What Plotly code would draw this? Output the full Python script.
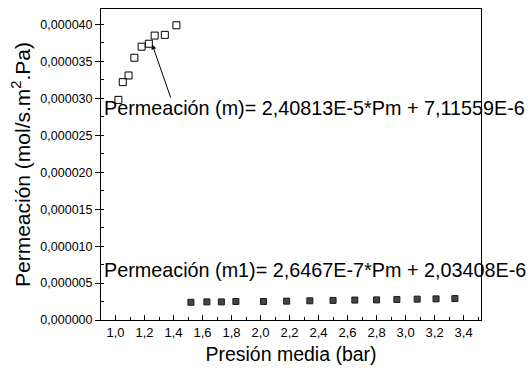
import plotly.graph_objects as go

# Permeación (m) - open squares
pm_m = [1.02, 1.05, 1.09, 1.13, 1.18, 1.23, 1.27, 1.34, 1.42]
perm_m = [29.8e-6, 32.2e-6, 33.1e-6, 35.5e-6, 37.0e-6, 37.4e-6, 38.5e-6, 38.6e-6, 39.9e-6]

# Permeación (m1) - filled squares
pm_m1 = [1.52, 1.63, 1.73, 1.83, 2.02, 2.18, 2.34, 2.50, 2.65, 2.80, 2.94, 3.08, 3.21, 3.34]
perm_m1 = [2.40e-6, 2.45e-6, 2.45e-6, 2.50e-6, 2.50e-6, 2.55e-6, 2.60e-6, 2.65e-6,
           2.70e-6, 2.72e-6, 2.78e-6, 2.82e-6, 2.86e-6, 2.90e-6]

x_ticks = [1.0, 1.2, 1.4, 1.6, 1.8, 2.0, 2.2, 2.4, 2.6, 2.8, 3.0, 3.2, 3.4]
y_ticks = [0, 5e-6, 10e-6, 15e-6, 20e-6, 25e-6, 30e-6, 35e-6, 40e-6]

eq_m = "Permeación (m)= 2,40813E-5*Pm + 7,11559E-6"
eq_m1 = "Permeación (m1)= 2,6467E-7*Pm + 2,03408E-6"

font = "Liberation Sans, Arial, sans-serif"

fig = go.Figure()
fig.add_trace(go.Scatter(
    x=pm_m, y=perm_m, mode="markers",
    marker=dict(symbol="square-open", size=7, color="black", line=dict(width=1, color="black")),
    showlegend=False))
fig.add_trace(go.Scatter(
    x=pm_m1, y=perm_m1, mode="markers",
    marker=dict(symbol="square", size=6, color="#3c4a42", line=dict(width=1, color="#1a1a1a")),
    showlegend=False))

fig.add_annotation(x=0.003, y=0.682, xref="paper", yref="paper", text=eq_m,
                   showarrow=False, xanchor="left", yanchor="middle",
                   font=dict(size=19.8, color="black", family=font))
fig.add_annotation(x=0.003, y=0.161, xref="paper", yref="paper", text=eq_m1,
                   showarrow=False, xanchor="left", yanchor="middle",
                   font=dict(size=19.8, color="black", family=font))
# arrow
fig.add_annotation(x=1.253, y=37.3e-6, ax=1.384, ay=29.9e-6, xref="x", yref="y",
                   axref="x", ayref="y", text="", showarrow=True,
                   arrowhead=2, arrowsize=1, arrowwidth=1, arrowcolor="black")

fig.update_layout(
    width=528, height=371,
    margin=dict(l=101, r=47, t=9, b=51),
    paper_bgcolor="white", plot_bgcolor="white",
    separators=", ",
    font=dict(family=font, color="black", size=13),
)
fig.update_xaxes(
    range=[0.9, 3.52], tickvals=x_ticks, tickformat=".1f",
    showline=True, linecolor="black", linewidth=1, mirror=True,
    ticks="inside", ticklen=5, tickcolor="black",
    minor=dict(dtick=0.1, ticks="inside", ticklen=3, tickcolor="black"),
    showgrid=False, zeroline=False,
    tickfont=dict(size=13),
    title=dict(text="Presión media (bar)", font=dict(size=19.5), standoff=8),
)
fig.update_yaxes(
    range=[0, 42.1e-6], tickvals=y_ticks, tickformat=".6f",
    showline=True, linecolor="black", linewidth=1, mirror=True,
    ticks="outside", ticklen=5, tickcolor="black",
    minor=dict(dtick=2.5e-6, ticks="inside", ticklen=3, tickcolor="black"),
    showgrid=False, zeroline=False,
    tickfont=dict(size=12.5),
    title=dict(text="Permeación (mol/s.m<sup>2</sup>.Pa)", font=dict(size=21), standoff=4),
)

fig.write_html("out.html")
